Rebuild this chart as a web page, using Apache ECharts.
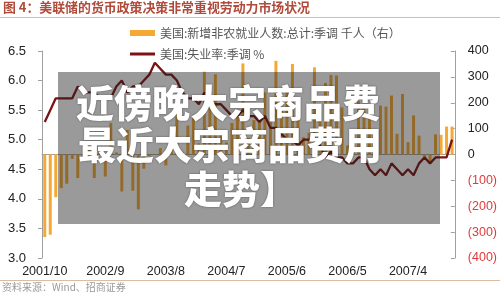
<!DOCTYPE html>
<html>
<head>
<meta charset="utf-8">
<script src="https://cdn.jsdelivr.net/npm/echarts@6.0.0/dist/echarts.min.js"></script>
<style>
html, body { margin: 0; padding: 0; background: #fff; }
#main { width: 500px; height: 297px; }
</style>
</head>
<body>
<div id="main"></div>
<script>
// 月份(2001/10 - 2007/12)
const categories = [
  '2001/10', '2001/11', '2001/12',
  '2002/1', '2002/2', '2002/3', '2002/4', '2002/5', '2002/6', '2002/7', '2002/8', '2002/9', '2002/10', '2002/11', '2002/12',
  '2003/1', '2003/2', '2003/3', '2003/4', '2003/5', '2003/6', '2003/7', '2003/8', '2003/9', '2003/10', '2003/11', '2003/12',
  '2004/1', '2004/2', '2004/3', '2004/4', '2004/5', '2004/6', '2004/7', '2004/8', '2004/9', '2004/10', '2004/11', '2004/12',
  '2005/1', '2005/2', '2005/3', '2005/4', '2005/5', '2005/6', '2005/7', '2005/8', '2005/9', '2005/10', '2005/11', '2005/12',
  '2006/1', '2006/2', '2006/3', '2006/4', '2006/5', '2006/6', '2006/7', '2006/8', '2006/9', '2006/10', '2006/11', '2006/12',
  '2007/1', '2007/2', '2007/3', '2007/4', '2007/5', '2007/6', '2007/7', '2007/8', '2007/9', '2007/10', '2007/11', '2007/12'
];

// 新增非农就业人数 千人(右轴)
const payrolls = [
  -319, -310, -165,
  -130, -113, -17, -91, -7, 45, -91, 14, -85, 122, 8, -143,
  95, -140, -212, -55, -6, -2, 25, -42, 103, 203, 10, 112,
  150, 43, 320, 249, 310, 81, 47, 122, 160, 352, 64, 133,
  136, 240, 142, 362, 170, 243, 350, 198, 67, 84, 337, 159,
  277, 308, 305, 182, 35, 81, 207, 183, 157, 20, 189, 185,
  228, 80, 234, 48, 151, 73, -15, -25, 78, 76, 108, 108
];

// 失业率 %(左轴)
const unemployment = [
  5.3, 5.5, 5.7,
  5.7, 5.7, 5.7, 5.9, 5.8, 5.8, 5.8, 5.7, 5.7, 5.7, 5.9, 6.0,
  5.8, 5.9, 5.9, 6.0, 6.1, 6.3, 6.2, 6.1, 6.1, 6.0, 5.8, 5.7,
  5.7, 5.6, 5.8, 5.6, 5.6, 5.6, 5.5, 5.4, 5.4, 5.5, 5.4, 5.4,
  5.3, 5.4, 5.2, 5.2, 5.1, 5.0, 5.0, 4.9, 5.0, 5.0, 5.0, 4.9,
  4.7, 4.8, 4.7, 4.7, 4.6, 4.6, 4.7, 4.7, 4.5, 4.4, 4.5, 4.4,
  4.6, 4.5, 4.4, 4.5, 4.4, 4.6, 4.7, 4.6, 4.7, 4.7, 4.7, 5.0
];

const barName = '美国:新增非农就业人数:总计:季调 千人（右）';
const lineName = '美国:失业率:季调 %';
const titleText = '图 4：美联储的货币政策决策非常重视劳动力市场状况';
const sourceText = '资料来源：Wind、招商证券';
const overlayLines = ['近傍晚大宗商品费', '最近大宗商品费用', '走势】'];

const latin = '"Liberation Sans", Arial, sans-serif';
const cjk = '"Noto Sans CJK SC", sans-serif';

const myChart = echarts.init(document.getElementById('main'), null, { renderer: 'canvas' });

myChart.setOption({
  animation: false,
  backgroundColor: '#fff',
  grid: { left: 42, right: 43, top: 51, bottom: 39 },
  legend: [
    {
      data: [barName], left: 125, top: 22, icon: 'rect', itemWidth: 25, itemHeight: 6,
      textStyle: { color: '#555', fontSize: 12, fontFamily: cjk }
    },
    {
      data: [lineName], left: 125, top: 43, icon: 'rect', itemWidth: 25, itemHeight: 3,
      textStyle: { color: '#555', fontSize: 12, fontFamily: cjk }
    }
  ],
  xAxis: {
    type: 'category',
    data: categories,
    boundaryGap: true,
    axisLine: { lineStyle: { color: '#a0a0a0' } },
    axisTick: { interval: 10, length: 4, lineStyle: { color: '#a0a0a0' } },
    axisLabel: { interval: 10, margin: 7, color: '#222', fontSize: 12.5, fontFamily: latin }
  },
  yAxis: [
    {
      type: 'value', min: 3, max: 6.5, interval: 0.5,
      splitLine: { show: false },
      axisLine: { show: true, lineStyle: { color: '#a0a0a0' } },
      axisTick: { show: true, length: 4, lineStyle: { color: '#a0a0a0' } },
      axisLabel: { margin: 16, color: '#222', fontSize: 13, fontFamily: latin, formatter: (v) => v.toFixed(1) }
    },
    {
      type: 'value', min: -400, max: 400, interval: 100,
      splitLine: { show: false },
      axisLine: { show: true, lineStyle: { color: '#a0a0a0' } },
      axisTick: { show: true, inside: true, length: 4, lineStyle: { color: '#a0a0a0' } },
      axisLabel: {
        margin: 13, align: 'left', fontSize: 12.5, fontFamily: latin,
        color: (v) => (Number(v) < 0 ? '#e03a3a' : '#222'),
        formatter: (v) => (v < 0 ? '(' + Math.abs(v) + ')' : String(v))
      }
    }
  ],
  series: [
    {
      name: barName, type: 'bar', yAxisIndex: 1, data: payrolls,
      barWidth: 3, itemStyle: { color: '#f5a833' }
    },
    {
      name: lineName, type: 'line', yAxisIndex: 0, data: unemployment,
      symbol: 'none', itemStyle: { color: '#7c1212' },
      lineStyle: { color: '#7c1212', width: 2.3 }
    }
  ],
  graphic: [
    // 标题和分隔线
    {
      type: 'text', left: 3, top: 1, z: 50,
      style: { text: titleText, fill: '#b04a3a', fontSize: 12.9, fontWeight: 'bold', fontFamily: cjk }
    },
    { type: 'rect', shape: { x: 0, y: 17, width: 500, height: 1 }, style: { fill: '#d9bba6' }, z: 50 },
    // 底部来源
    { type: 'rect', shape: { x: 0, y: 280, width: 500, height: 1 }, style: { fill: '#d9bba6' }, z: 50 },
    {
      type: 'text', left: 2, top: 282, z: 50,
      style: { text: sourceText, fill: '#9a9a9a', fontSize: 10, fontFamily: cjk }
    },
    // 灰色遮罩
    {
      type: 'rect', z: 100,
      shape: { x: 58, y: 72, width: 382, height: 152 },
      style: { fill: 'rgba(30,30,30,0.45)' }
    },
    {
      type: 'text', x: 76, y: 103, z: 101,
      style: {
        text: overlayLines[0], fill: '#fff', fontSize: 38, fontWeight: 900, fontFamily: cjk,
        verticalAlign: 'middle', textShadowColor: 'rgba(0,0,0,0.5)', textShadowBlur: 2
      }
    },
    {
      type: 'text', x: 78, y: 145, z: 101,
      style: {
        text: overlayLines[1], fill: '#fff', fontSize: 38, fontWeight: 900, fontFamily: cjk,
        verticalAlign: 'middle', textShadowColor: 'rgba(0,0,0,0.5)', textShadowBlur: 2
      }
    },
    {
      type: 'text', x: 184, y: 189, z: 101,
      style: {
        text: overlayLines[2], fill: '#fff', fontSize: 38, fontWeight: 900, fontFamily: cjk,
        verticalAlign: 'middle', textShadowColor: 'rgba(0,0,0,0.5)', textShadowBlur: 2
      }
    }
  ]
});
</script>
</body>
</html>
